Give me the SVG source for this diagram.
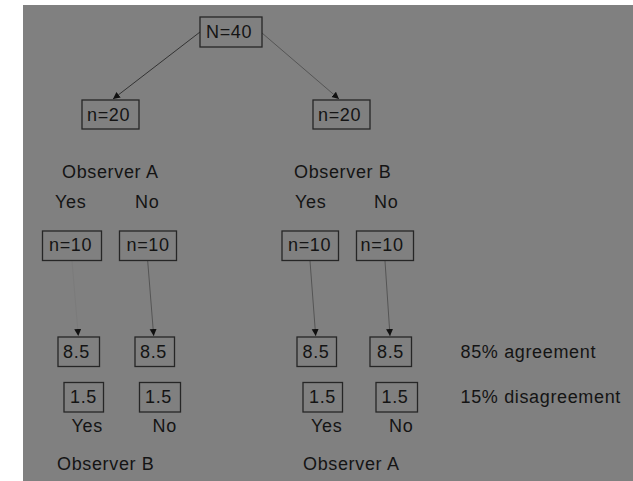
<svg xmlns="http://www.w3.org/2000/svg" width="633" height="481" viewBox="0 0 633 481">
<defs>
<style>
text{font-family:"Liberation Sans",Arial,sans-serif;font-size:18px;letter-spacing:0.65px;fill:#141414}
.box{fill:none;stroke:#262626;stroke-width:1.3}
.c{fill:none;stroke-width:1}
</style>
<marker id="ah" markerUnits="userSpaceOnUse" markerWidth="8" markerHeight="8" refX="7" refY="3.5" orient="auto">
<path d="M0,0 L7,3.5 L0,7 z" fill="#111"/>
</marker>
</defs>
<rect x="23" y="5" width="610" height="476" fill="#808080"/>
<g id="connectors">
<line class="c" x1="200" y1="32" x2="113" y2="99" stroke="#333" marker-end="url(#ah)"/>
<line class="c" x1="262" y1="33" x2="339" y2="99" stroke="#555" marker-end="url(#ah)"/>
<line class="c" x1="72" y1="261" x2="78.3" y2="336" stroke="#7b7b7b" marker-end="url(#ah)"/>
<line class="c" x1="147.7" y1="261" x2="153.7" y2="336" stroke="#555" marker-end="url(#ah)"/>
<line class="c" x1="310" y1="261" x2="315.7" y2="336" stroke="#555" marker-end="url(#ah)"/>
<line class="c" x1="385" y1="261" x2="390" y2="336" stroke="#555" marker-end="url(#ah)"/>
</g>
<g id="root"><rect class="box" x="200" y="17" width="62" height="30"/><text x="206" y="38">N=40</text></g>
<g id="n20a"><rect class="box" x="82" y="100" width="57" height="29"/><text x="87" y="121">n=20</text></g>
<g id="n20b"><rect class="box" x="313" y="100" width="57" height="29"/><text x="318" y="121">n=20</text></g>
<g id="labelsTop">
<text x="62" y="178">Observer A</text>
<text x="294" y="178">Observer B</text>
<text x="55" y="208">Yes</text>
<text x="135" y="208">No</text>
<text x="295" y="208">Yes</text>
<text x="374" y="208">No</text>
</g>
<g id="n10a"><rect class="box" x="42.5" y="231" width="59" height="29.5"/><text x="49" y="251">n=10</text></g>
<g id="n10b"><rect class="box" x="119.5" y="231" width="57" height="29.5"/><text x="126.5" y="251">n=10</text></g>
<g id="n10c"><rect class="box" x="282" y="231" width="56.5" height="29.5"/><text x="288" y="251">n=10</text></g>
<g id="n10d"><rect class="box" x="356.5" y="231" width="57" height="29.5"/><text x="360.5" y="251">n=10</text></g>
<g id="a1"><rect class="box" x="58" y="337" width="41.5" height="29.5"/><text x="63" y="357.5">8.5</text></g>
<g id="a2"><rect class="box" x="135" y="337" width="39.5" height="29.5"/><text x="140" y="357.5">8.5</text></g>
<g id="a3"><rect class="box" x="297" y="337" width="39.5" height="29.5"/><text x="302.5" y="357.5">8.5</text></g>
<g id="a4"><rect class="box" x="370" y="337" width="41.5" height="29.5"/><text x="377" y="357.5">8.5</text></g>
<g id="d1"><rect class="box" x="64" y="382.5" width="39.5" height="29.5"/><text x="70" y="403">1.5</text></g>
<g id="d2"><rect class="box" x="139.5" y="382.5" width="41" height="29.5"/><text x="145" y="403">1.5</text></g>
<g id="d3"><rect class="box" x="303" y="382.5" width="39.5" height="29.5"/><text x="309" y="403">1.5</text></g>
<g id="d4"><rect class="box" x="376" y="382.5" width="41.5" height="29.5"/><text x="381.5" y="403">1.5</text></g>
<g id="labelsRight">
<text x="460.5" y="358">85% agreement</text>
<text x="460.5" y="403">15% disagreement</text>
</g>
<g id="labelsBottom">
<text x="71.5" y="432">Yes</text>
<text x="152.5" y="432">No</text>
<text x="311" y="432">Yes</text>
<text x="389" y="432">No</text>
<text x="57" y="470">Observer B</text>
<text x="303" y="470">Observer A</text>
</g>
</svg>
